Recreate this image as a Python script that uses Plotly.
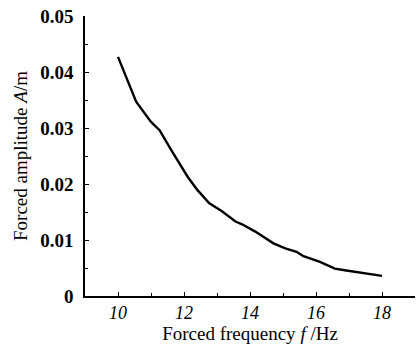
import plotly.graph_objects as go

freq = [10.0, 10.55, 11.0, 11.26, 11.61, 12.11, 12.41, 12.76, 13.16, 13.56, 13.76,
        14.16, 14.71, 15.07, 15.41, 15.62, 16.12, 16.57, 16.87, 17.27, 18.0]
amp = [0.0427, 0.0347, 0.0311, 0.0296, 0.0261, 0.0213, 0.0189, 0.0166, 0.0151, 0.0133, 0.0128,
       0.0115, 0.0094, 0.0085, 0.0079, 0.0071, 0.0061, 0.0049, 0.0046, 0.0042, 0.0036]
x_ticks = [10, 12, 14, 16, 18]
y_ticks = [0, 0.01, 0.02, 0.03, 0.04, 0.05]
y_tick_labels = ["0", "0.01", "0.02", "0.03", "0.04", "0.05"]

fig = go.Figure()
fig.add_trace(go.Scatter(x=freq, y=amp, mode="lines",
                         line=dict(color="black", width=2.4), line_shape="linear"))

font = "Liberation Serif, Times New Roman, serif"
fig.update_layout(
    width=417, height=354,
    margin=dict(l=85, r=2, t=16, b=58),
    paper_bgcolor="white", plot_bgcolor="white",
    showlegend=False,
    font=dict(family=font, color="black", size=18),
    xaxis=dict(range=[9, 19], tickvals=x_ticks, ticktext=[f"<i>{v}</i>" for v in x_ticks],
               automargin=False,
               showline=True, linecolor="black", linewidth=1.5,
               ticks="inside", ticklen=4, tickcolor="black",
               minor=dict(dtick=1, tick0=9, ticks="inside", ticklen=3, tickcolor="black"),
               showgrid=False, zeroline=False,
               tickfont=dict(size=18, family=font),
               title=dict(text="Forced frequency <i>f</i> /Hz", font=dict(size=19, family=font), standoff=2)),
    yaxis=dict(range=[0, 0.05], tickvals=y_ticks, ticktext=[f"<b>{t}</b>" for t in y_tick_labels],
               automargin=False,
               showline=True, linecolor="black", linewidth=1.5,
               ticks="inside", ticklen=4, tickcolor="black",
               minor=dict(dtick=0.005, tick0=0, ticks="inside", ticklen=3, tickcolor="black"),
               showgrid=False, zeroline=False,
               ticklabelstandoff=6,
               tickfont=dict(size=19, family=font),
               title=dict(text="Forced amplitude <i>A</i>/m", font=dict(size=19, family=font), standoff=8)),
)
fig.write_html("out.html", config={"displayModeBar": False},
               post_script="document.body.style.margin='0';document.body.style.overflow='hidden';")
